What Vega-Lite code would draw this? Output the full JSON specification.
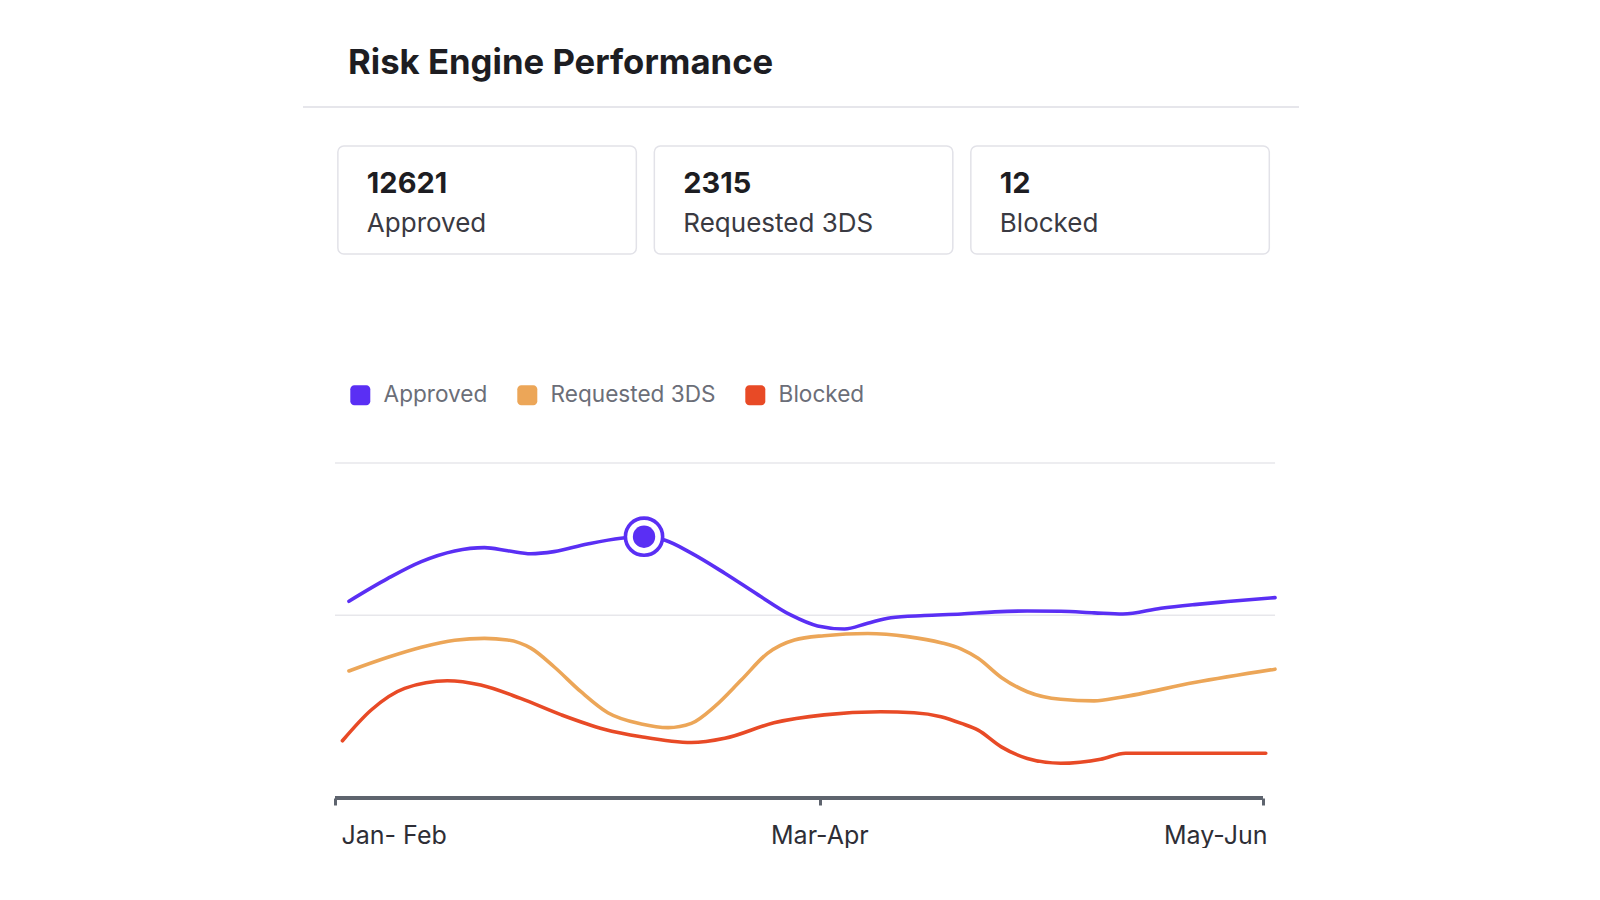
{
  "$schema": "https://vega.github.io/schema/vega-lite/v6.json",
  "background": "white",
  "padding": {"left": 302, "top": 46, "right": 0, "bottom": 0},
  "config": {"font": "Inter", "view": {"stroke": null}},
  "spacing": 207,
  "datasets": {
    "stats": [
      {"metric": "Approved", "count": 12621},
      {"metric": "Requested 3DS", "count": 2315},
      {"metric": "Blocked", "count": 12}
    ],
    "grid": [{"level": 600}, {"level": 1100}],
    "highlight": [{"series": "Approved", "t": 33.3, "v": 858}],
    "series": [
      {"series": "Approved", "t": 1.5, "v": 646},
      {"series": "Approved", "t": 5.7, "v": 721},
      {"series": "Approved", "t": 9.3, "v": 776},
      {"series": "Approved", "t": 12.9, "v": 811},
      {"series": "Approved", "t": 16.1, "v": 822},
      {"series": "Approved", "t": 18.6, "v": 812},
      {"series": "Approved", "t": 21.1, "v": 802},
      {"series": "Approved", "t": 23.6, "v": 809},
      {"series": "Approved", "t": 27.2, "v": 834},
      {"series": "Approved", "t": 30.8, "v": 853},
      {"series": "Approved", "t": 33.3, "v": 858},
      {"series": "Approved", "t": 35.5, "v": 847},
      {"series": "Approved", "t": 38.4, "v": 804},
      {"series": "Approved", "t": 42.0, "v": 738},
      {"series": "Approved", "t": 45.6, "v": 667},
      {"series": "Approved", "t": 49.1, "v": 601},
      {"series": "Approved", "t": 52.0, "v": 565},
      {"series": "Approved", "t": 54.9, "v": 555},
      {"series": "Approved", "t": 57.4, "v": 574},
      {"series": "Approved", "t": 59.9, "v": 592},
      {"series": "Approved", "t": 63.5, "v": 599},
      {"series": "Approved", "t": 67.5, "v": 604},
      {"series": "Approved", "t": 71.1, "v": 611},
      {"series": "Approved", "t": 74.6, "v": 614},
      {"series": "Approved", "t": 78.2, "v": 613},
      {"series": "Approved", "t": 81.8, "v": 608},
      {"series": "Approved", "t": 84.9, "v": 604},
      {"series": "Approved", "t": 89.0, "v": 623},
      {"series": "Approved", "t": 92.6, "v": 635},
      {"series": "Approved", "t": 96.2, "v": 645},
      {"series": "Approved", "t": 101.3, "v": 658},
      {"series": "Requested 3DS", "t": 1.5, "v": 417},
      {"series": "Requested 3DS", "t": 5.7, "v": 462},
      {"series": "Requested 3DS", "t": 9.3, "v": 495},
      {"series": "Requested 3DS", "t": 12.9, "v": 518},
      {"series": "Requested 3DS", "t": 16.1, "v": 524},
      {"series": "Requested 3DS", "t": 18.6, "v": 519},
      {"series": "Requested 3DS", "t": 21.1, "v": 492},
      {"series": "Requested 3DS", "t": 23.6, "v": 431},
      {"series": "Requested 3DS", "t": 26.5, "v": 349},
      {"series": "Requested 3DS", "t": 29.4, "v": 280},
      {"series": "Requested 3DS", "t": 33.0, "v": 243},
      {"series": "Requested 3DS", "t": 35.9, "v": 231},
      {"series": "Requested 3DS", "t": 38.4, "v": 245},
      {"series": "Requested 3DS", "t": 40.9, "v": 300},
      {"series": "Requested 3DS", "t": 43.8, "v": 388},
      {"series": "Requested 3DS", "t": 46.6, "v": 475},
      {"series": "Requested 3DS", "t": 49.5, "v": 519},
      {"series": "Requested 3DS", "t": 52.7, "v": 533},
      {"series": "Requested 3DS", "t": 57.4, "v": 540},
      {"series": "Requested 3DS", "t": 61.7, "v": 530},
      {"series": "Requested 3DS", "t": 65.3, "v": 510},
      {"series": "Requested 3DS", "t": 67.5, "v": 489},
      {"series": "Requested 3DS", "t": 69.3, "v": 459},
      {"series": "Requested 3DS", "t": 71.8, "v": 396},
      {"series": "Requested 3DS", "t": 74.6, "v": 349},
      {"series": "Requested 3DS", "t": 78.2, "v": 324},
      {"series": "Requested 3DS", "t": 81.8, "v": 319},
      {"series": "Requested 3DS", "t": 84.7, "v": 331},
      {"series": "Requested 3DS", "t": 92.6, "v": 379},
      {"series": "Requested 3DS", "t": 101.3, "v": 423},
      {"series": "Blocked", "t": 0.8, "v": 188},
      {"series": "Blocked", "t": 3.9, "v": 289},
      {"series": "Blocked", "t": 7.5, "v": 360},
      {"series": "Blocked", "t": 12.1, "v": 385},
      {"series": "Blocked", "t": 15.7, "v": 371},
      {"series": "Blocked", "t": 20.0, "v": 327},
      {"series": "Blocked", "t": 24.4, "v": 273},
      {"series": "Blocked", "t": 29.0, "v": 226},
      {"series": "Blocked", "t": 33.0, "v": 201},
      {"series": "Blocked", "t": 38.4, "v": 182},
      {"series": "Blocked", "t": 42.0, "v": 196},
      {"series": "Blocked", "t": 47.3, "v": 247},
      {"series": "Blocked", "t": 52.7, "v": 273},
      {"series": "Blocked", "t": 58.8, "v": 283},
      {"series": "Blocked", "t": 62.4, "v": 280},
      {"series": "Blocked", "t": 65.3, "v": 267},
      {"series": "Blocked", "t": 67.5, "v": 245},
      {"series": "Blocked", "t": 69.3, "v": 223},
      {"series": "Blocked", "t": 71.8, "v": 168},
      {"series": "Blocked", "t": 74.6, "v": 130},
      {"series": "Blocked", "t": 78.2, "v": 114},
      {"series": "Blocked", "t": 82.5, "v": 127},
      {"series": "Blocked", "t": 85.2, "v": 147},
      {"series": "Blocked", "t": 100.3, "v": 147}
    ]
  },
  "vconcat": [
    {
      "width": 996,
      "height": 147,
      "title": {"text": "Risk Engine Performance", "anchor": "start", "dx": 46, "offset": -3, "baseline": "alphabetic", "fontSize": 34.7, "fontWeight": "bold", "color": "#1d1d22", "font": "Inter"},
      "data": {"name": "stats"},
      "layer": [
        {
          "mark": {"type": "rule", "color": "#e6e6eb", "strokeWidth": 2},
          "encoding": {"y": {"value": 0}}
        },
        {
          "mark": {"type": "rect", "fill": "white", "stroke": "#e2e2e8", "strokeWidth": 1.5, "cornerRadius": 6},
          "encoding": {
            "x": {"field": "metric", "type": "nominal", "sort": null, "axis": null,
                  "scale": {"domain": ["Approved", "Requested 3DS", "Blocked"], "paddingInner": 0.0569, "paddingOuter": 0.102, "align": 0.54}},
            "y": {"value": 39},
            "y2": {"value": 147}
          }
        },
        {
          "mark": {"type": "text", "align": "left", "baseline": "alphabetic", "dx": 29, "fontSize": 29, "fontWeight": "bold", "color": "#1d1d22"},
          "encoding": {
            "x": {"field": "metric", "type": "nominal", "sort": null, "bandPosition": 0, "axis": null},
            "y": {"value": 86},
            "text": {"field": "count", "type": "quantitative", "format": "d"}
          }
        },
        {
          "mark": {"type": "text", "align": "left", "baseline": "alphabetic", "dx": 29, "fontSize": 26, "color": "#3a3a42"},
          "encoding": {
            "x": {"field": "metric", "type": "nominal", "sort": null, "bandPosition": 0, "axis": null},
            "y": {"value": 125},
            "text": {"field": "metric", "type": "nominal"}
          }
        }
      ]
    },
    {
      "width": 996,
      "height": 335,
      "layer": [
        {
          "data": {"name": "grid"},
          "mark": {"type": "rule", "color": "#e7e7eb", "strokeWidth": 1.5},
          "encoding": {
            "x": {"datum": 0, "type": "quantitative"},
            "x2": {"datum": 101.3},
            "y": {"field": "level", "type": "quantitative", "axis": null}
          }
        },
        {
          "data": {"values": [{}]},
          "mark": {"type": "rule", "color": "#5e646e", "strokeWidth": 4},
          "encoding": {
            "x": {"datum": 0, "type": "quantitative"},
            "x2": {"datum": 100},
            "y": {"datum": 0, "type": "quantitative", "axis": null}
          }
        },
        {
          "data": {"name": "series"},
          "mark": {"type": "line", "interpolate": "monotone", "strokeWidth": 3.6, "strokeCap": "round"},
          "encoding": {
            "x": {"field": "t", "type": "quantitative",
                  "scale": {"domain": [-3.45, 103.88], "nice": false, "zero": false},
                  "axis": {"values": [0, 52.3, 100], "title": null, "domain": false, "grid": false,
                           "labelExpr": "datum.value < 1 ? 'Jan- Feb' : datum.value > 99 ? 'May-Jun' : 'Mar-Apr'",
                           "labelAlign": {"condition": [{"test": "datum.value < 1", "value": "left"}, {"test": "datum.value > 99", "value": "right"}], "value": "center"},
                           "labelOffset": {"condition": [{"test": "datum.value < 1", "value": 6}, {"test": "datum.value > 99", "value": 4}], "value": -1},
                           "ticks": true, "tickColor": "#5e646e", "tickWidth": 3, "tickSize": 7,
                           "labelFontSize": 25, "labelColor": "#2e2e36", "labelPadding": 18, "labelFont": "Inter"}},
            "y": {"field": "v", "type": "quantitative", "scale": {"domain": [0, 1100], "nice": false, "zero": false}, "axis": null},
            "color": {"field": "series", "type": "nominal", "sort": null,
                      "scale": {"domain": ["Approved", "Requested 3DS", "Blocked"], "range": ["#5a2ff4", "#eca658", "#e84a26"]},
                      "legend": {"orient": "none", "legendX": 46, "legendY": 277, "direction": "horizontal", "title": null,
                                 "symbolType": "M-1,-0.6 A0.4,0.4 0 0 1 -0.6,-1 L0.6,-1 A0.4,0.4 0 0 1 1,-0.6 L1,0.6 A0.4,0.4 0 0 1 0.6,1 L-0.6,1 A0.4,0.4 0 0 1 -1,0.6 Z",
                                 "symbolSize": 400, "symbolStrokeWidth": 0, "labelFontSize": 22.6, "labelColor": "#6b6e78",
                                 "labelOffset": 12, "columnPadding": 28, "padding": 0, "labelFont": "Inter", "labelLimit": 400,
                                 "encode": {"symbols": {"update": {"fill": {"scale": "color", "field": "value"}, "fillOpacity": {"value": 1}, "strokeWidth": {"value": 0}}}}}}
          }
        },
        {
          "data": {"name": "highlight"},
          "mark": {"type": "point", "shape": "circle", "filled": true, "fill": "white", "stroke": "#5a2ff4", "strokeWidth": 3.6, "size": 1385, "opacity": 1},
          "encoding": {
            "x": {"field": "t", "type": "quantitative"},
            "y": {"field": "v", "type": "quantitative", "axis": null}
          }
        },
        {
          "data": {"name": "highlight"},
          "mark": {"type": "point", "shape": "circle", "filled": true, "color": "#5a2ff4", "size": 500, "opacity": 1},
          "encoding": {
            "x": {"field": "t", "type": "quantitative"},
            "y": {"field": "v", "type": "quantitative", "axis": null}
          }
        }
      ]
    }
  ]
}
